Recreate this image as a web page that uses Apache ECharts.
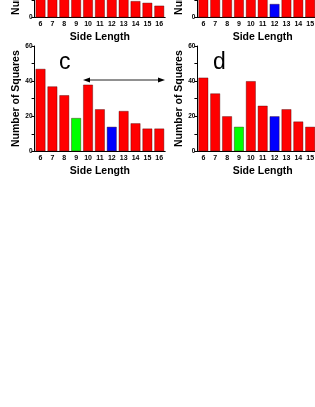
<!DOCTYPE html>
<html><head><meta charset="utf-8">
<script src="https://cdn.jsdelivr.net/npm/echarts@6/dist/echarts.min.js"></script>
<style>html,body{margin:0;padding:0;background:#fff;overflow:hidden;width:315px;height:407px}#c{width:345px;height:495px;margin-top:-88px}</style>
</head><body><div id="c"></div>
<script>
const categories = ['6','7','8','9','10','11','12','13','14','15','16'];
const yTicks = [0, 20, 40, 60];
const panelA = [44, 36, 28, 22, 35, 25, 18, 20, 9.7, 8.7, 7];
const panelB = [42, 35, 27, 18, 36, 25, 8, 21, 16, 13, 11];
const panelC = [47, 37, 32, 19, 38, 24, 14, 23, 16, 13, 13];
const panelD = [42, 33, 20, 14, 40, 26, 20, 24, 17, 14, 13];
const greenBars = { a: [], b: [], c: ['9'], d: ['9'] };
const blueBars = { a: [], b: ['12'], c: ['12'], d: ['12'] };

const OFF = 88; // container shifted up by this many pixels
const FONT = '"Liberation Sans", Arial, sans-serif';
const grids = [
  { left: 34.6, top: 0.2, width: 130.6, height: 105.3 },
  { left: 197.4, top: 0.2, width: 130.6, height: 105.3 },
  { left: 34.6, top: 46 + OFF, width: 130.6, height: 105.3 },
  { left: 197.4, top: 46 + OFF, width: 130.6, height: 105.3 }
];
const keys = ['a','b','c','d'];
const datas = [panelA, panelB, panelC, panelD];

function colorFor(k, cat) {
  if (greenBars[k].includes(cat)) return '#00ff00';
  if (blueBars[k].includes(cat)) return '#0000ff';
  return '#ff0000';
}

const option = {
  animation: false,
  backgroundColor: '#fff',
  grid: grids.map(g => Object.assign({ containLabel: false }, g)),
  xAxis: grids.map((g, i) => ({
    type: 'category', gridIndex: i, data: categories,
    name: 'Side Length', nameLocation: 'middle', nameGap: 14,
    nameTextStyle: { fontFamily: FONT, fontWeight: 'bold', fontSize: 10.5, color: '#000' },
    axisLine: { lineStyle: { color: '#000', width: 1 } },
    axisTick: { show: false },
    axisLabel: { fontFamily: FONT, fontWeight: 'bold', fontSize: 7, color: '#000', margin: 3, interval: 0 }
  })),
  yAxis: grids.map((g, i) => ({
    type: 'value', gridIndex: i, min: 0, max: 60, interval: 10,
    name: 'Number of Squares', nameLocation: 'middle', nameGap: 10,
    nameTextStyle: { fontFamily: FONT, fontWeight: 'bold', fontSize: 10.5, color: '#000' },
    axisLine: { show: true, lineStyle: { color: '#000', width: 1 } },
    axisTick: { show: true, length: 3, lineStyle: { color: '#000' } },
    splitLine: { show: false },
    axisLabel: { fontFamily: FONT, fontWeight: 'bold', fontSize: 6.5, color: '#000', margin: 2,
      formatter: v => yTicks.includes(v) ? String(v) : '' }
  })),
  series: datas.map((d, i) => ({
    type: 'bar', xAxisIndex: i, yAxisIndex: i, barCategoryGap: '16%',
    data: d.map((v, j) => ({ value: v, itemStyle: { color: colorFor(keys[i], categories[j]) } })),
    itemStyle: { borderColor: 'rgba(60,0,0,0.55)', borderWidth: 0.7 }
  })),
  graphic: [
    { type: 'text', left: 59, top: 51 + OFF, style: { text: 'c', font: '23px ' + FONT, fill: '#000' } },
    { type: 'text', left: 213, top: 51 + OFF, style: { text: 'd', font: '23px ' + FONT, fill: '#000' } },
    { type: 'line', shape: { x1: 86, y1: 80 + OFF, x2: 162, y2: 80 + OFF }, style: { stroke: '#222', lineWidth: 1 } },
    { type: 'polygon', shape: { points: [[83, 80 + OFF], [90, 77.6 + OFF], [90, 82.4 + OFF]] }, style: { fill: '#000' } },
    { type: 'polygon', shape: { points: [[165, 80 + OFF], [158, 77.6 + OFF], [158, 82.4 + OFF]] }, style: { fill: '#000' } }
  ]
};
const chart = echarts.init(document.getElementById('c'), null, { renderer: 'canvas' });
chart.setOption(option);
</script></body></html>
